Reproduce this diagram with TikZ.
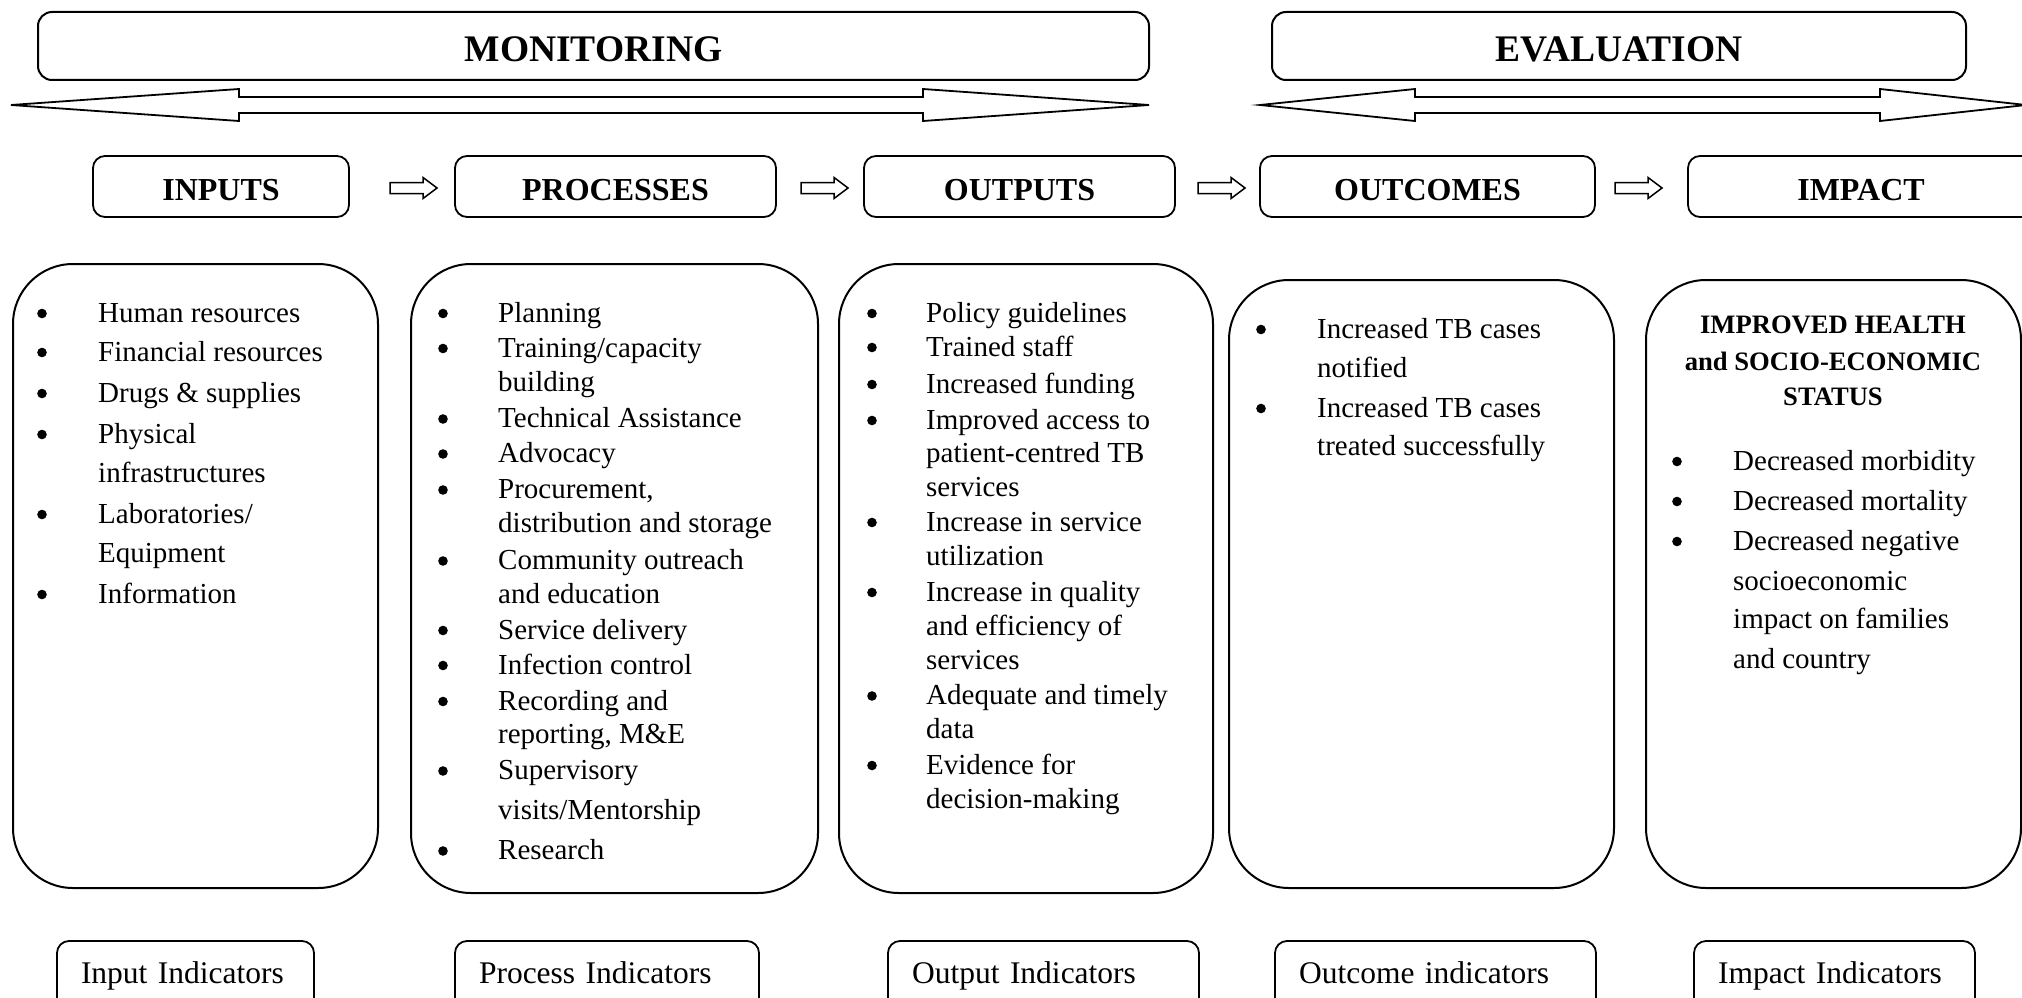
\documentclass[tikz,border=0pt]{standalone}
\usepackage{fontspec}
\setmainfont{Liberation Serif}
\tikzset{
  topbox/.style={draw, line width=2pt, rounded corners=14pt, inner sep=0pt,
    font=\bfseries\fontsize{37.5}{40}\selectfont, text height=32pt, text depth=0pt,
    minimum height=68pt},
  headbox/.style={draw, line width=1.8pt, rounded corners=12pt, inner sep=0pt,
    font=\bfseries\fontsize{32}{36}\selectfont, text height=27pt, text depth=0pt,
    minimum height=61pt},
  bigbox/.style={draw, line width=2pt, rounded corners=60pt, inner sep=0pt},
  indbox/.style={draw, line width=1.8pt, rounded corners=12pt, inner ysep=0pt,
    inner xsep=24pt, align=left, font=\fontsize{31.5}{36}\selectfont,
    text height=22pt, text depth=12pt, minimum height=74pt},
  txt/.style={font=\fontsize{29}{35}\selectfont, anchor=base west, inner sep=0pt},
  bul/.style={circle, fill=black, inner sep=0pt, minimum size=9.6pt, yshift=8.5pt},
  ihead/.style={font=\bfseries\fontsize{26.6}{36}\selectfont, anchor=base, inner sep=0pt},
  arrowshape/.style={draw, line width=1.8pt, line join=miter, fill=white},
  smallarrow/.style={draw, line width=1.5pt, line join=miter, fill=white}
}
\newcommand\smallarr[2]{%
  \draw[smallarrow] (#1,{#2-5.5}) -- ({#1+33},{#2-5.5}) -- ({#1+33},{#2-10.5})
    -- ({#1+47},#2) -- ({#1+33},{#2+10.5}) -- ({#1+33},{#2+5.5}) -- (#1,{#2+5.5}) -- cycle;}
\begin{document}
\begin{tikzpicture}[x=1pt,y=-1pt]
\useasboundingbox (0,0) rectangle (2022,998);
\clip (0,0) rectangle (2022,998);
\fill[white] (0,0) rectangle (2022,998);

% top boxes
\node[topbox, minimum width=1111pt] (mon) at (593.5,46) {MONITORING};
\node[topbox, minimum width=694pt] (eva) at (1619,46) {EVALUATION};

% big double arrows
\draw[arrowshape] (11,105) -- (239,89) -- (239,97) -- (923,97) -- (923,89) -- (1149,105)
  -- (923,121) -- (923,113) -- (239,113) -- (239,121) -- cycle;
\draw[arrowshape] (1260,105) -- (1415,89) -- (1415,97) -- (1880,97) -- (1880,89) -- (2026,105)
  -- (1880,121) -- (1880,113) -- (1415,113) -- (1415,121) -- cycle;

% header boxes
\node[headbox, minimum width=256pt] (inputs) at (221,186.5) {INPUTS};
\node[headbox, minimum width=321pt] (processes) at (615.5,186.5) {PROCESSES};
\node[headbox, minimum width=311pt] (outputs) at (1019.5,186.5) {OUTPUTS};
\node[headbox, minimum width=335pt] (outcomes) at (1427.5,186.5) {OUTCOMES};
\node[headbox, minimum width=346pt] (impact) at (1861,186.5) {IMPACT};

\smallarr{390}{188}
\smallarr{801}{188}
\smallarr{1198}{188}
\smallarr{1615}{188}

% content boxes
\node[bigbox, minimum width=365pt, minimum height=624pt] (inbox) at (195.5,576) {};
\node[bigbox, minimum width=407pt, minimum height=629pt] (prbox) at (614.5,578.5) {};
\node[bigbox, minimum width=374pt, minimum height=629pt] (oubox) at (1026,578.5) {};
\node[bigbox, minimum width=385pt, minimum height=608pt] (ocbox) at (1421.5,584) {};
\node[bigbox, minimum width=375pt, minimum height=608pt] (imbox) at (1833.5,584) {};

% inputs list
\node[bul] (ib1) at (42,322) {};
\node[txt] (it1) at (98,322) {Human resources};
\node[bul] (ib2) at (42,361) {};
\node[txt] (it2) at (98,361) {Financial resources};
\node[bul] (ib3) at (42,402) {};
\node[txt] (it3) at (98,402) {Drugs \& supplies};
\node[bul] (ib4) at (42,443) {};
\node[txt] (it4) at (98,443) {Physical};
\node[txt] (it4b) at (98,482) {infrastructures};
\node[bul] (ib5) at (42,523) {};
\node[txt] (it5) at (98,523) {Laboratories/};
\node[txt] (it5b) at (98,562) {Equipment};
\node[bul] (ib6) at (42,603) {};
\node[txt] (it6) at (98,603) {Information};

% processes list
\node[bul] (pb1) at (443,322) {};
\node[txt] (pt1) at (498,322) {Planning};
\node[bul] (pb2) at (443,357) {};
\node[txt] (pt2) at (498,357) {Training/capacity};
\node[txt] (pt2b) at (498,391.5) {building};
\node[bul] (pb3) at (443,427.5) {};
\node[txt] (pt3) at (498,427.5) {Technical Assistance};
\node[bul] (pb4) at (443,462.5) {};
\node[txt] (pt4) at (498,462.5) {Advocacy};
\node[bul] (pb5) at (443,498.5) {};
\node[txt] (pt5) at (498,498.5) {Procurement,};
\node[txt] (pt5b) at (498,532) {distribution and storage};
\node[bul] (pb6) at (443,569.5) {};
\node[txt] (pt6) at (498,569.5) {Community outreach};
\node[txt] (pt6b) at (498,603) {and education};
\node[bul] (pb7) at (443,639) {};
\node[txt] (pt7) at (498,639) {Service delivery};
\node[bul] (pb8) at (443,674) {};
\node[txt] (pt8) at (498,674) {Infection control};
\node[bul] (pb9) at (443,710) {};
\node[txt] (pt9) at (498,710) {Recording and};
\node[txt] (pt9b) at (498,743.5) {reporting, M\&E};
\node[bul] (pb10) at (443,779.5) {};
\node[txt] (pt10) at (498,779.5) {Supervisory};
\node[txt] (pt10b) at (498,819.5) {visits/Mentorship};
\node[bul] (pb11) at (443,859.5) {};
\node[txt] (pt11) at (498,859.5) {Research};

% outputs list
\node[bul] (ob1) at (872,322) {};
\node[txt] (ot1) at (926,322) {Policy guidelines};
\node[bul] (ob2) at (872,356) {};
\node[txt] (ot2) at (926,356) {Trained staff};
\node[bul] (ob3) at (872,393) {};
\node[txt] (ot3) at (926,393) {Increased funding};
\node[bul] (ob4) at (872,429) {};
\node[txt] (ot4) at (926,429) {Improved access to};
\node[txt] (ot4b) at (926,462.5) {patient-centred TB};
\node[txt] (ot4c) at (926,496) {services};
\node[bul] (ob5) at (872,531) {};
\node[txt] (ot5) at (926,531) {Increase in service};
\node[txt] (ot5b) at (926,565) {utilization};
\node[bul] (ob6) at (872,601) {};
\node[txt] (ot6) at (926,601) {Increase in quality};
\node[txt] (ot6b) at (926,635) {and efficiency of};
\node[txt] (ot6c) at (926,669) {services};
\node[bul] (ob7) at (872,704.5) {};
\node[txt] (ot7) at (926,704.5) {Adequate and timely};
\node[txt] (ot7b) at (926,738) {data};
\node[bul] (ob8) at (872,774) {};
\node[txt] (ot8) at (926,774) {Evidence for};
\node[txt] (ot8b) at (926,808) {decision-making};

% outcomes list
\node[bul] (cb1) at (1261,338) {};
\node[txt] (ct1) at (1317,338) {Increased TB cases};
\node[txt] (ct1b) at (1317,377) {notified};
\node[bul] (cb2) at (1261,417) {};
\node[txt] (ct2) at (1317,417) {Increased TB cases};
\node[txt] (ct2b) at (1317,455) {treated successfully};

% impact content
\node[ihead] (ih1) at (1833,333) {IMPROVED HEALTH};
\node[ihead] (ih2) at (1833,370) {and SOCIO-ECONOMIC};
\node[ihead] (ih3) at (1833,405) {STATUS};
\node[bul] (mb1) at (1677,470) {};
\node[txt] (mt1) at (1733,470) {Decreased morbidity};
\node[bul] (mb2) at (1677,510) {};
\node[txt] (mt2) at (1733,510) {Decreased mortality};
\node[bul] (mb3) at (1677,550) {};
\node[txt] (mt3) at (1733,550) {Decreased negative};
\node[txt] (mt3b) at (1733,590) {socioeconomic};
\node[txt] (mt3c) at (1733,628) {impact on families};
\node[txt] (mt3d) at (1733,668) {and country};

% indicator boxes
\node[indbox, text width=209pt] (ind1) at (185.5,978) {Input Indicators};
\node[indbox, text width=256pt] (ind2) at (607,978) {Process Indicators};
\node[indbox, text width=263pt] (ind3) at (1043.5,978) {Output Indicators};
\node[indbox, text width=273pt] (ind4) at (1435.5,978) {Outcome indicators};
\node[indbox, text width=233pt] (ind5) at (1834.5,978) {Impact Indicators};
\end{tikzpicture}
\end{document}
